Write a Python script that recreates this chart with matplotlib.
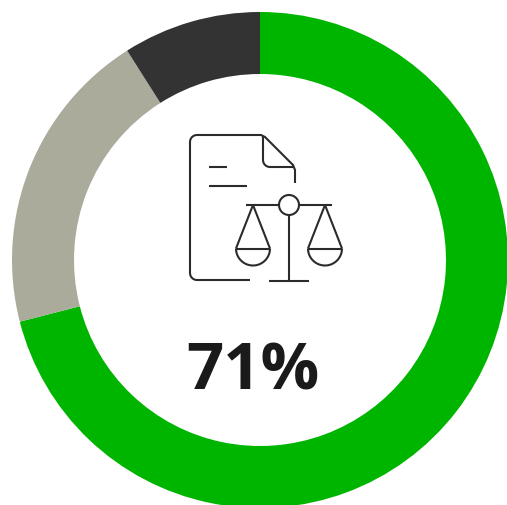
import numpy as np
from matplotlib import pyplot as plt
from matplotlib.patches import Circle

# Share of each ring segment, clockwise from the top
shares = [71, 20, 9]
ring_colors = ['#00b500', '#abab9c', '#333333']
label = '71%'

W, H = 507, 506
TOP = H - 1
ICON = '#2b2b2b'


def flip(y):
    # icon coordinates were read in pixels from the top
    return TOP - np.asarray(y, dtype=float)


def stroke(ax, xs, ys, lw=1.5):
    ax.plot(xs, flip(ys), color=ICON, lw=lw, solid_capstyle='butt', solid_joinstyle='round')


def corner(cx, cy, r, a0, a1):
    t = np.radians(np.linspace(a0, a1, 12))
    return list(cx + r * np.cos(t)), list(cy + r * np.sin(t))


def pan(ax, apex, left, right, base_y):
    stroke(ax, [left, apex, right], [base_y, 205, base_y])
    stroke(ax, [left, right], [base_y, base_y])
    r = (right - left) / 2
    t = np.radians(np.linspace(0, 180, 40))
    stroke(ax, (left + right) / 2 + r * np.cos(t), base_y + r * np.sin(t))


fig = plt.figure(figsize=(W / 100, H / 100), dpi=100)
ax = fig.add_axes([0, 0, 1, 1])

ax.pie(shares, colors=ring_colors, startangle=90, counterclock=False,
       center=(260, flip(260)), radius=248, frame=True,
       wedgeprops={'width': 62, 'linewidth': 0})
ax.set_xlim(0, W)
ax.set_ylim(0, H)
ax.set_aspect('equal')
ax.axis('off')

# Document outline
x1, y1 = corner(197, 273, 7, 90, 180)
x2, y2 = corner(197, 142, 7, 180, 270)
stroke(ax, [250] + x1 + x2 + [261, 265, 293, 295, 295],
       [280] + y1 + y2 + [135, 137, 165, 170, 183])
# Folded corner
x3, y3 = corner(270, 160, 7, 180, 90)
stroke(ax, [263] + x3 + [293], [136] + y3 + [167])
# Text lines on the page
stroke(ax, [209, 227], [167, 167])
stroke(ax, [209, 247], [186, 186])

# Scales
stroke(ax, [246, 279], [205, 205])
stroke(ax, [299, 332], [205, 205])
ax.add_patch(Circle((289, flip(205)), 10, fill=False, ec=ICON, lw=1.5))
stroke(ax, [289, 289], [215, 280])
stroke(ax, [269, 309], [280.5, 280.5])
pan(ax, 253, 236, 270, 248.5)
pan(ax, 325, 308, 342, 248.5)

ax.text(252.5, flip(388), label, ha='center', va='baseline', fontsize=47,
        fontweight='bold', family='Open Sans', color='#1a1a1a')

fig.savefig('out.png', dpi=100)
